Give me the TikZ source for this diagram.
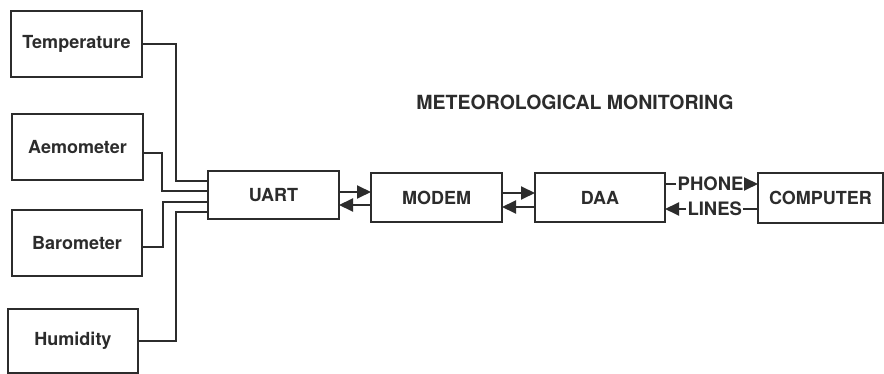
\documentclass[tikz,border=0pt]{standalone}
\usepackage{fontspec}
\setmainfont{TeX Gyre Heros}
\usetikzlibrary{arrows.meta,calc}
\definecolor{ink}{HTML}{2c2c2c}
\begin{document}
\begin{tikzpicture}[x=1pt,y=-1pt,
  box/.style={draw=ink,line width=1.9pt,text=ink,
    font=\fontsize{18}{21}\selectfont\bfseries,inner sep=0pt,outer sep=0pt},
  lbl/.style={text=ink,font=\fontsize{18.5}{21}\selectfont\bfseries,inner sep=1.5pt,outer sep=0pt},
  wire/.style={draw=ink,line width=1.9pt},
  arr/.style={wire,-{Triangle[length=14pt,width=13pt]}}]
\useasboundingbox (0,0) rectangle (884,374);
\fill[white] (0,0) rectangle (884,374);

% sensor boxes
\node[box,minimum width=131pt,minimum height=66pt] (temp) at (76.5,44) {Temperature};
\node[box,minimum width=131pt,minimum height=66pt] (aemo) at (77.5,147) {Aemometer};
\node[box,minimum width=130pt,minimum height=66pt] (baro) at (77,243) {Barometer};
\node[box,minimum width=130pt,minimum height=64pt] (humid) at (73,341) {Humidity};

% chain
\node[box,minimum width=131pt,minimum height=48pt] (uart) at (273.5,195) {UART};
\node[box,minimum width=131pt,minimum height=49pt] (modem) at (436.5,197.5) {MODEM};
\node[box,minimum width=130pt,minimum height=49pt] (daa) at (600,197.5) {DAA};
\node[box,minimum width=125pt,minimum height=50pt] (comp) at (820.5,198) {COMPUTER};

% title
\node[text=ink,font=\fontsize{19.5}{22}\selectfont\bfseries,inner sep=0pt] (title) at (575,102) {METEOROLOGICAL MONITORING};

% sensor wiring
\draw[wire] (temp.east) -- ++(34,0) |- (uart.west |- 0,181);
\draw[wire] ($(aemo.east)+(0,6)$) -- ++(19,0) |- (uart.west |- 0,191);
\draw[wire] ($(baro.east)+(0,4)$) -- ++(21,0) |- (uart.west |- 0,202);
\draw[wire] (humid.east) -- ++(38,0) |- (uart.west |- 0,212);

% uart <-> modem
\draw[arr] (uart.east |- 0,192) -- (modem.west |- 0,192);
\draw[arr] (modem.west |- 0,205) -- (uart.east |- 0,205);
% modem <-> daa
\draw[arr] (modem.east |- 0,193) -- (daa.west |- 0,193);
\draw[arr] (daa.west |- 0,207) -- (modem.east |- 0,207);

% phone lines
\node[lbl,anchor=east] (phone) at (745,184) {PHONE};
\draw[wire] (daa.east |- phone.west) -- (phone.west);
\draw[arr] (phone.east) -- (comp.west |- phone.east);
\node[lbl,anchor=west] (lines) at (686,209) {LINES};
\draw[wire] (comp.west |- lines.east) -- (lines.east);
\draw[arr] (lines.west) -- (daa.east |- lines.west);
\end{tikzpicture}
\end{document}
